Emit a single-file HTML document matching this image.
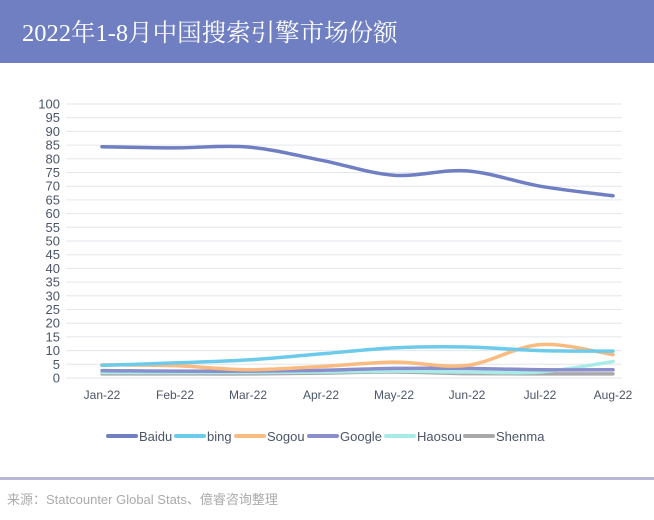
<!DOCTYPE html>
<html><head><meta charset="utf-8"><style>
body{margin:0;width:654px;height:520px;background:#fff;overflow:hidden;font-family:"Liberation Sans","Noto Sans CJK SC",sans-serif}
.hd{position:absolute;left:0;top:0;width:654px;height:63px;background:#6f7fc2}
.hd div{position:absolute;left:22px;top:14px;color:#fff;font-size:24.5px;font-family:"Liberation Serif","Noto Serif CJK SC",serif}
.ln{position:absolute;left:0;top:477px;width:654px;height:3px;background:#b9b7d8}
.ft{position:absolute;left:7px;top:489px;color:#aaa;font-size:13px}
</style></head><body>
<div class="hd"><div>2022年1-8月中国搜索引擎市场份额</div></div>
<svg id="s" width="654" height="520" style="position:absolute;left:0;top:0"></svg>
<div class="ln"></div>
<div class="ft">来源：Statcounter Global Stats、億睿咨询整理</div>
<script>
var s=document.getElementById('s'),h='';
function Y(v){return 378-v*2.74}
for(var v=0;v<=100;v+=5){h+='<line x1="66" x2="622" y1="'+Y(v)+'" y2="'+Y(v)+'" stroke="#e3e6ec" stroke-width="1"/>';
h+='<text x="60" y="'+(Y(v)+4.5)+'" text-anchor="end" font-size="13" fill="#4a5568">'+v+'</text>';}
var m=['Jan-22','Feb-22','Mar-22','Apr-22','May-22','Jun-22','Jul-22','Aug-22'];
function X(i){return 102+i*73}
m.forEach(function(t,i){h+='<text x="'+X(i)+'" y="399" text-anchor="middle" font-size="12" fill="#4a5568">'+t+'</text>'});
var S=[['Shenma','#a9a9a9',[1.5,1.5,1.5,1.8,2.2,1.6,1.5,1.5]],['Haosou','#a8ecea',[2,2,2,2.2,2.5,2.2,2.2,6]],['Google','#8a8fcc',[2.7,2.5,2.5,2.8,3.5,3.5,3,3]],['Sogou','#f9bb80',[4.8,4.5,3,4.2,5.8,4.6,12.2,8.5]],['bing','#6ccbeb',[4.6,5.5,6.6,8.8,11,11.3,10,9.8]],['Baidu','#6f7fc2',[84.4,84,84.3,79.5,74,75.6,70,66.5]]];
S.forEach(function(a){var p=a[2].map(function(v,i){return [X(i),Y(v)]});var d='M'+p[0];
for(var i=0;i<p.length-1;i++){var p0=p[i-1]||p[i],p1=p[i],p2=p[i+1],p3=p[i+2]||p2;
d+='C'+(p1[0]+(p2[0]-p0[0])/6)+','+(p1[1]+(p2[1]-p0[1])/6)+' '+(p2[0]-(p3[0]-p1[0])/6)+','+(p2[1]-(p3[1]-p1[1])/6)+' '+p2;}
h+='<path d="'+d+'" fill="none" stroke="'+a[1]+'" stroke-width="3.5" stroke-linecap="round"/>';});
var L=[['Baidu','#6f7fc2',108],['bing','#6ccbeb',176],['Sogou','#f9bb80',236],['Google','#8a8fcc',309],['Haosou','#a8ecea',386],['Shenma','#a9a9a9',465]];
L.forEach(function(a){h+='<line x1="'+a[2]+'" x2="'+(a[2]+28)+'" y1="436" y2="436" stroke="'+a[1]+'" stroke-width="4" stroke-linecap="round"/><text x="'+(a[2]+31)+'" y="441" font-size="13" fill="#4a5568">'+a[0]+'</text>'});
s.innerHTML=h;
</script>
</body></html>
